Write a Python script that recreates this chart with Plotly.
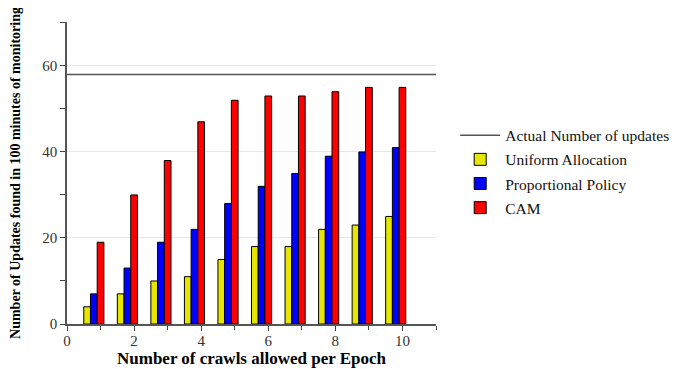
import plotly.graph_objects as go

crawls = [1, 2, 3, 4, 5, 6, 7, 8, 9, 10]
uniform = [4, 7, 10, 11, 15, 18, 18, 22, 23, 25]
proportional = [7, 13, 19, 22, 28, 32, 35, 39, 40, 41]
cam = [19, 30, 38, 47, 52, 53, 53, 54, 55, 55]
actual_updates = 58
x_span = [0, 11]

FONT = "Liberation Serif"

fig = go.Figure()
fig.add_trace(go.Scatter(
    x=x_span, y=[actual_updates, actual_updates], mode="lines",
    line=dict(color="#555555", width=1.5),
    name="Actual Number of updates", legendgroup="a"))
for name, vals, col, off, grp in [
    ("Uniform Allocation", uniform, "#e6e600", -0.5, "b"),
    ("Proportional Policy", proportional, "#0000ff", -0.3, "c"),
    ("CAM", cam, "#ff0000", -0.1, "d"),
]:
    fig.add_trace(go.Bar(
        x=crawls, y=vals, name=name, width=0.2, offset=off,
        marker=dict(color=col, line=dict(color="#000000", width=1)),
        legendgroup=grp))

fig.update_layout(
    width=687, height=369,
    margin=dict(l=59, r=259, t=14, b=53),
    plot_bgcolor="white", paper_bgcolor="white",
    barmode="overlay",
    font=dict(family=FONT, size=13, color="#222222"),
    showlegend=True,
    legend=dict(x=1.052, y=0.68, xanchor="left", yanchor="top",
                font=dict(family=FONT, size=15.5, color="#111111"),
                tracegroupgap=1, traceorder="grouped", itemwidth=40,
                bgcolor="rgba(0,0,0,0)"),
    xaxis=dict(range=x_span, dtick=2, tick0=0, ticks="outside", ticklen=5,
               tickcolor="#444", showline=True, linecolor="#555", linewidth=1.5,
               showgrid=False, zeroline=False, automargin=False,
               ticklabelstandoff=-3,
               minor=dict(dtick=1, ticks="outside", ticklen=4, tickcolor="#444"),
               tickfont=dict(family=FONT, size=15, color="#333"),
               title=dict(text="<b>Number of crawls allowed per Epoch</b>",
                          font=dict(family=FONT, size=17, color="#000"), standoff=4)),
    yaxis=dict(range=[0, 70.2], dtick=20, tick0=0, ticks="outside", ticklen=5,
               tickcolor="#444", showline=True, linecolor="#555", linewidth=1.5,
               showgrid=True, gridcolor="#e6e6e6", gridwidth=1, zeroline=False,
               automargin=False,
               minor=dict(dtick=10, ticks="outside", ticklen=5, tickcolor="#444",
                          showgrid=False),
               tickfont=dict(family=FONT, size=15, color="#333"),
               title=dict(text="<b>Number of Updates found in 100 minutes of monitoring</b>",
                          font=dict(family=FONT, size=14, color="#000"), standoff=18)),
)

fig.write_html("out.html")
